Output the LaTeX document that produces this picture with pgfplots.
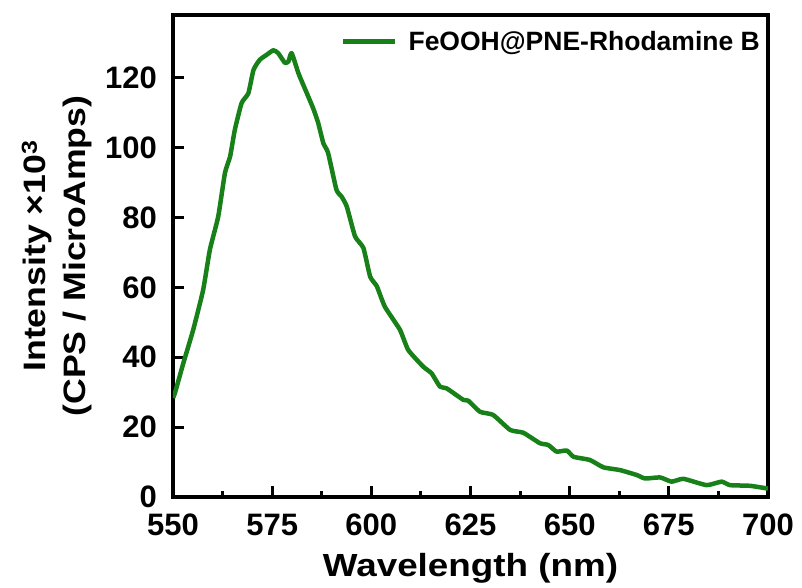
\documentclass[border=0pt]{standalone}
\usepackage{pgfplots}
\pgfplotsset{compat=1.18}
\usepackage{fontspec}
\setmainfont{Liberation Sans}
\newfontfamily\widefont[FakeStretch=1.15]{Liberation Sans}
\definecolor{lgreen}{RGB}{24,128,24}
\begin{document}
\begin{tikzpicture}[x=1pt,y=1pt]
\path[use as bounding box] (-173pt,-91pt) rectangle (629pt,497pt);
\begin{axis}[
  at={(0pt,0pt)}, anchor=south west,
  scale only axis, width=595pt, height=482pt,
  xmin=550, xmax=700, ymin=0, ymax=138,
  xtick={550,575,...,700}, ytick={0,20,...,120},
  minor xtick={562.5,587.5,...,687.5},
  tick pos=left, tick align=inside,
  major tick length=11pt, minor tick length=6pt,
  every tick/.style={line width=3pt, black},
  axis line style={line width=4.5pt},
  /pgf/number format/assume math mode=true,
  ticklabel style={font=\fontsize{31}{34}\selectfont\bfseries},
  xticklabel style={anchor=base, yshift=-38pt},
  yticklabel style={anchor=east, inner sep=0pt, xshift=-16pt},
  xlabel={Wavelength (nm)},
  xlabel style={font=\widefont\fontsize{32}{36}\selectfont\bfseries,
    at={(axis description cs:0.5,-0.164)}, anchor=base},
  ylabel={Intensity \texttimes10\textsuperscript{3}\\(CPS / MicroAmps)},
  ylabel style={font=\widefont\fontsize{31}{40}\selectfont\bfseries, align=center,
    at={(axis description cs:-0.195,0.5)}, rotate=0, anchor=center},
  legend style={draw=none, fill=none, at={(1,1)}, anchor=north east,
    font=\fontsize{26.5}{28}\selectfont\bfseries, inner sep=0pt, xshift=-6pt, yshift=-14pt},
  legend cell align=left,
  legend image code/.code={\draw[#1, line width=4.5pt] (0pt,0pt) -- (52pt,0pt); \path (61pt,0pt);},
]
\addplot[lgreen, line width=4.5pt, line join=round, smooth, tension=0.3] coordinates {
(550,28.4)(550.5,29.8)(552.6,38.3)(555.1,47.9)(557.6,59.3)(559.3,70.8)(561.4,80.3)
(563.1,92.8)(564.4,97.5)(565.6,105.2)(567.3,112.8)(569.0,115.6)(570.3,122.3)
(571.9,125.2)(573.6,126.6)(575.3,127.9)(576.5,127.1)(578.2,124.3)(579.1,124.7)
(579.9,127.1)(581.6,121.4)(582.8,118.1)(585.3,111.4)(586.6,107.1)(587.9,101.3)
(589.1,98.5)(591.2,88.0)(592.5,86.0)(593.8,83.2)(595.9,74.6)(598.0,71.3)(599.7,63.1)
(601.4,60.3)(603.4,54.5)(607.2,47.9)(609.3,42.1)(613.1,37.3)(615.2,35.4)(617.3,31.6)
(619.0,31.1)(623.2,27.8)(624.4,27.6)(627.4,24.4)(630.7,23.5)(635.0,19.2)(638.3,18.4)
(642.5,15.4)(644.6,14.9)(646.7,13.0)(649.3,13.3)(651.0,11.5)(655.1,10.6)(658.5,8.5)
(662.7,7.7)(666.9,6.3)(669.0,5.3)(672.8,5.6)(675.7,4.4)(678.7,5.2)(684.5,3.4)
(688.3,4.4)(690.4,3.4)(695.5,3.2)(700,2.4)
};
\addlegendentry{FeOOH@PNE-Rhodamine B}
\end{axis}
\end{tikzpicture}
\end{document}
